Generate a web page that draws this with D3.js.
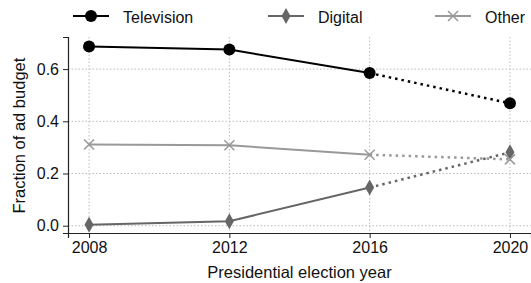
<!DOCTYPE html>
<html>
<head>
<meta charset="utf-8">
<script src="https://cdn.jsdelivr.net/npm/d3@7"></script>
<style>
  body { margin: 0; background: #fff; }
  text { font-family: "Liberation Sans", Arial, sans-serif; fill: #111; }
</style>
</head>
<body>
<div id="chart"></div>
<script>
// Data
const years = [2008, 2012, 2016, 2020]
const television = [0.687, 0.675, 0.585, 0.469]
const digital = [0.004, 0.017, 0.146, 0.281]
const other = [0.311, 0.308, 0.272, 0.254]
const yTicks = [0.0, 0.2, 0.4, 0.6]

const series = [
  { name: 'Television', values: television, color: '#000', marker: 'circle' },
  { name: 'Digital', values: digital, color: '#666', marker: 'diamond' },
  { name: 'Other', values: other, color: '#999', marker: 'cross' }
]

const size = { width: 531, height: 283 }
const margin = { left: 68, right: 0, top: 37, bottom: 50 }

let width = size.width - margin.left - margin.right
let height = size.height - margin.top - margin.bottom

let x = d3.scaleLinear().domain([2007.4, 2020.6]).range([0, width])
let y = d3.scaleLinear().domain([-0.028, 0.723]).range([height, 0])

let root = d3.select('#chart').append('svg')
  .attr('width', size.width)
  .attr('height', size.height)

let svg = root.append('g')
  .attr('transform', `translate(${margin.left}, ${margin.top})`)

// Grid
svg.append('g').selectAll('line')
  .data(years)
  .enter().append('line')
  .attr('x1', d => x(d)).attr('x2', d => x(d))
  .attr('y1', 0).attr('y2', height)
  .attr('stroke', '#bbb').attr('stroke-width', 1).attr('stroke-dasharray', '1.5,2')

svg.append('g').selectAll('line')
  .data(yTicks)
  .enter().append('line')
  .attr('x1', 0).attr('x2', width)
  .attr('y1', d => y(d)).attr('y2', d => y(d))
  .attr('stroke', '#bbb').attr('stroke-width', 1).attr('stroke-dasharray', '1.5,2')

// Axes
let xAxis = svg.append('g')
  .attr('transform', `translate(0, ${height})`)
  .call(d3.axisBottom(x).tickValues(years).tickFormat(d3.format('d')).tickSizeOuter(0).tickSize(5).tickPadding(4))
let yAxis = svg.append('g')
  .call(d3.axisLeft(y).tickValues(yTicks).tickFormat(d3.format('.1f')).tickSizeOuter(0).tickSize(5).tickPadding(4))

for (let ax of [xAxis, yAxis]) {
  ax.selectAll('text').style('font-size', '16px').style('fill', '#111')
  ax.selectAll('line').attr('stroke', '#222')
  ax.select('.domain').attr('stroke', '#222').attr('stroke-width', 1.2)
}

// Axis labels
root.append('text')
  .attr('x', margin.left + x(2014)).attr('y', 278)
  .attr('text-anchor', 'middle').style('font-size', '16.5px')
  .text('Presidential election year')

root.append('text')
  .attr('transform', `translate(25, ${margin.top + y(0.345)}) rotate(-90)`)
  .attr('text-anchor', 'middle').style('font-size', '16.5px')
  .text('Fraction of ad budget')

// Marker drawing
let drawMarker = function (g, type, cx, cy, color) {
  if (type === 'circle') {
    g.append('circle').attr('cx', cx).attr('cy', cy).attr('r', 6).attr('fill', color)
  } else if (type === 'diamond') {
    g.append('path')
      .attr('d', `M${cx},${cy - 8}L${cx + 4.5},${cy}L${cx},${cy + 8}L${cx - 4.5},${cy}Z`)
      .attr('fill', color)
  } else {
    g.append('path')
      .attr('d', `M${cx - 5},${cy - 5}L${cx + 5},${cy + 5}M${cx - 5},${cy + 5}L${cx + 5},${cy - 5}`)
      .attr('stroke', color).attr('stroke-width', 1.5).attr('fill', 'none')
  }
}

let line = d3.line()
  .x(d => x(d[0]))
  .y(d => y(d[1]))

// Draw series: solid through 2016, dotted to 2020
for (let s of series) {
  let pts = years.map((yr, i) => [yr, s.values[i]])
  let g = svg.append('g')
  g.append('path')
    .attr('d', line(pts.slice(0, 3)))
    .attr('fill', 'none').attr('stroke', s.color).attr('stroke-width', 2)
  g.append('path')
    .attr('d', line(pts.slice(2)))
    .attr('fill', 'none').attr('stroke', s.color).attr('stroke-width', 2.5)
    .attr('stroke-dasharray', '2.5,4')
  pts.forEach(p => drawMarker(g, s.marker, x(p[0]), y(p[1]), s.color))
}

// Legend
let legendX = [73, 268, 435]
series.forEach((s, i) => {
  let g = root.append('g').attr('transform', `translate(${legendX[i]}, 16)`)
  g.append('line').attr('x1', 0).attr('x2', 36).attr('y1', 0).attr('y2', 0)
    .attr('stroke', s.color).attr('stroke-width', 2)
  drawMarker(g, s.marker, 18, 0, s.color)
  g.append('text').attr('x', 50).attr('y', 7).style('font-size', '16px').text(s.name)
})
</script>
</body>
</html>
